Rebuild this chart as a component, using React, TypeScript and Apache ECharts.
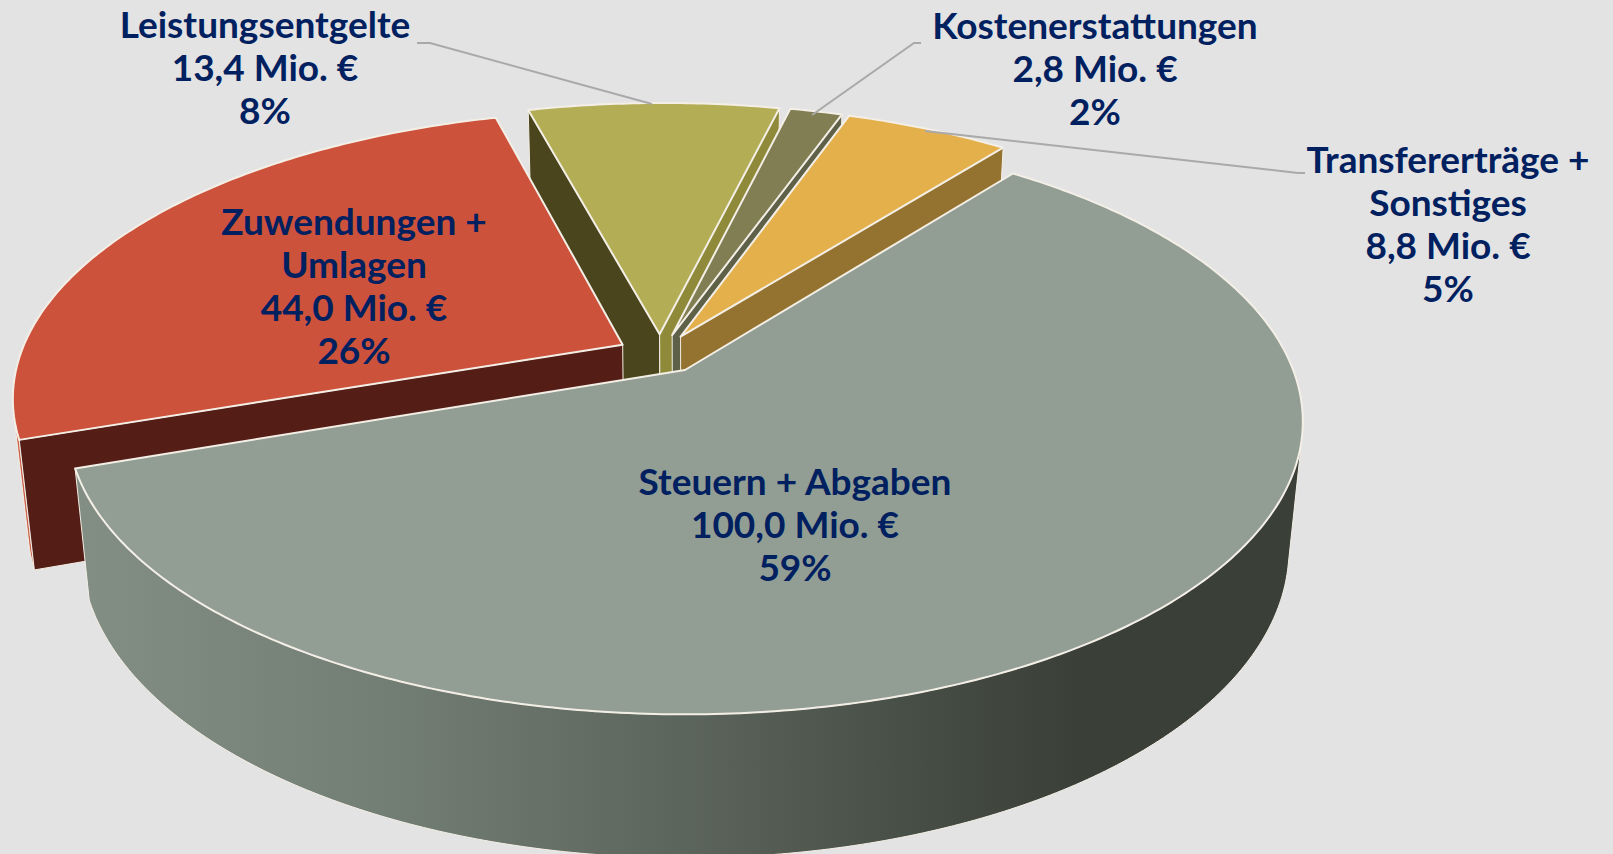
import React, { useEffect, useRef } from "react";
import * as echarts from "echarts";

const categories = ["Steuern + Abgaben", "Zuwendungen + Umlagen", "Leistungsentgelte", "Kostenerstattungen", "Transfererträge + Sonstiges"];
const values = [100.0, 44.0, 13.4, 2.8, 8.8];
const labelLines = [["Steuern + Abgaben"], ["Zuwendungen +", "Umlagen"], ["Leistungsentgelte"], ["Kostenerstattungen"], ["Transfererträge +", "Sonstiges"]];
const topColors = ["#929e94", "#cd523b", "#b3ad55", "#817e54", "#e4b04b"];
const startWallColors = ["#3a3f38", "#541e17", "#4a451d", "#5f6048", "#94722f"];
const endWallColors = ["#3a3f38", "#541e17", "#8f8a3a", "#5f6048", "#94722f"];
const outerColors = ["", "#c9614c", "#4a451d", "#5f6048", "#94722f"];
const drawOrder = [2, 3, 4, 1, 0];
const labelAnchors = [[795, 480], [354, 220], [265, 23], [1095, 24], [1448, 158]];
const leaders = [
  [[417, 43], [430, 43], [652, 104]],
  [[921, 43], [914, 43], [812, 115]],
  [[1305, 173], [1298, 173], [925, 131]],
];

const START_ANGLE = 37.9;
const total = values.reduce((a, b) => a + b, 0);
const spans = values.map((v) => (v / total) * 360);
const starts: number[] = [];
spans.reduce((acc, s) => { starts.push(acc); return acc + s; }, START_ANGLE);

const rad = (d: number) => (d * Math.PI) / 180;
const CX = 685, CY = 370, F = 3053, D = 5.02, H = 0.24, EXPLODE = 0.071;
const TS = Math.sin(rad(27.8)), TC = Math.cos(rad(27.8));
const VIEW_Y = D * TC;

function project(X: number, Y: number, Z: number): number[] {
  const w = D - Y * TC - Z * TS;
  return [CX + (F * X) / w, CY + (F * (Y * TS - Z * TC)) / w];
}
const mid = (i: number) => starts[i] + spans[i] / 2;
function apex(i: number): number[] {
  return [
    EXPLODE * (Math.sin(rad(mid(i))) - Math.sin(rad(mid(0)))),
    EXPLODE * (-Math.cos(rad(mid(i))) + Math.cos(rad(mid(0)))),
  ];
}
function arcAngles(i: number): number[] {
  const n = Math.max(8, Math.ceil(spans[i] * 1.5));
  const out: number[] = [];
  for (let k = 0; k <= n; k++) out.push(starts[i] + (spans[i] * k) / n);
  return out;
}
function rim(i: number, deg: number, Z: number): number[] {
  const a = apex(i);
  const t = rad(deg);
  return project(a[0] + Math.sin(t), a[1] - Math.cos(t), Z);
}
function outerFacing(i: number, deg: number): boolean {
  const a = apex(i);
  const t = rad(deg);
  return -a[0] * Math.sin(t) - (VIEW_Y - a[1]) * Math.cos(t) > 1;
}
// which side of a radial wall the viewer stands on: clockwise side is positive
function wallSide(i: number, deg: number): number {
  const a = apex(i);
  const t = rad(deg);
  return -a[0] * Math.cos(t) + (VIEW_Y - a[1]) * Math.sin(t);
}

const wallGradient = new echarts.graphic.LinearGradient(90, 0, 1300, 0, [
  { offset: 0, color: "#828d83" },
  { offset: 0.25, color: "#727d73" },
  { offset: 0.5, color: "#5b645a" },
  { offset: 0.68, color: "#474e45" },
  { offset: 0.82, color: "#3a3f38" },
  { offset: 1, color: "#3a3f38" },
], true);

function renderSlice(params: any) {
  const i = drawOrder[params.dataIndex];
  const a = apex(i);
  const angles = arcAngles(i);
  const a0 = project(a[0], a[1], 0);
  const a1 = project(a[0], a[1], -H);
  const edge = "#f4efe6";
  const poly = (points: number[][], fill: any, lineWidth: number) => ({
    type: "polygon",
    shape: { points },
    style: { fill, stroke: edge, lineWidth, lineJoin: "round" },
  });
  const children: any[] = [];
  const front = angles.filter((d) => outerFacing(i, d));
  if (front.length > 1) {
    children.push(poly(
      [...front.map((d) => rim(i, d, 0)), ...front.slice().reverse().map((d) => rim(i, d, -H))],
      i === 0 ? wallGradient : outerColors[i],
      1,
    ));
  }
  const first = angles[0];
  const last = angles[angles.length - 1];
  if (wallSide(i, first) < 0) {
    children.push(poly([a0, rim(i, first, 0), rim(i, first, -H), a1], startWallColors[i], 1));
  }
  if (wallSide(i, last) > 0) {
    children.push(poly([a0, rim(i, last, 0), rim(i, last, -H), a1], endWallColors[i], 1));
  }
  children.push(poly([a0, ...angles.map((d) => rim(i, d, 0))], topColors[i], 2));
  return { type: "group", children };
}

function formatValue(v: number) {
  return v.toFixed(1).replace(".", ",") + " Mio. €";
}

function buildLabels() {
  const out: any[] = [];
  const LH = 43;
  categories.forEach((_, i) => {
    const lines = [...labelLines[i], formatValue(values[i]), Math.round((values[i] / total) * 100) + "%"];
    lines.forEach((text, k) => {
      out.push({
        type: "text",
        x: labelAnchors[i][0],
        y: labelAnchors[i][1] + k * LH,
        z: 20,
        style: {
          text,
          fill: "#002060",
          font: 'bold 37px "Lato", sans-serif',
          textAlign: "center",
          textVerticalAlign: "middle",
        },
      });
    });
  });
  leaders.forEach((pts) => {
    out.push({
      type: "polyline",
      z: 10,
      shape: { points: pts },
      style: { stroke: "#a9a9a9", lineWidth: 2, fill: "none" },
    });
  });
  return out;
}

export default function App() {
  const ref = useRef<HTMLDivElement>(null);
  useEffect(() => {
    document.body.style.margin = "0";
    document.body.style.overflow = "hidden";
    const chart = echarts.init(ref.current!, undefined, { renderer: "svg" });
    chart.setOption({
      animation: false,
      backgroundColor: "#e3e3e3",
      series: [
        {
          type: "custom",
          coordinateSystem: "none",
          silent: true,
          clip: false,
          renderItem: renderSlice,
          data: drawOrder.map((i) => ({ name: categories[i], value: values[i] })),
          z: 5,
        },
      ],
      graphic: { elements: buildLabels() },
    });
    return () => chart.dispose();
  }, []);
  return <div ref={ref} style={{ width: 1613, height: 854 }} />;
}
